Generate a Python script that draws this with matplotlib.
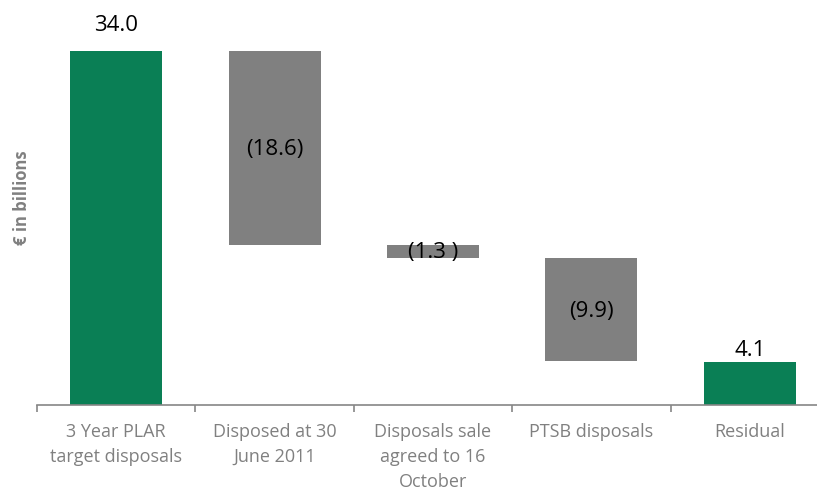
import matplotlib
matplotlib.use("Agg")
import matplotlib.pyplot as plt
import numpy as np

categories = ["3 Year PLAR\ntarget disposals", "Disposed at 30\nJune 2011",
              "Disposals sale\nagreed to 16\nOctober", "PTSB disposals", "Residual"]
start_total = 34.0
reductions = [18.6, 1.3, 9.9]
residual = 4.1
reduction_labels = ["(18.6)", "(1.3 )", "(9.9)"]

GREEN = "#0A7F55"
GREY = "#808080"
AXIS_GREY = "#868686"

plt.rcParams["font.family"] = ["Open Sans", "DejaVu Sans"]

fig = plt.figure(figsize=(8.17, 4.92), dpi=100)
ax = fig.add_axes([37 / 817, 87 / 492, (829 - 37) / 817, 405 / 492])

x = np.arange(len(categories))
width = 0.58

# Totals
ax.bar(x[0], start_total, width=width, color=GREEN)
ax.bar(x[-1], residual, width=width, color=GREEN)
ax.text(x[0], start_total + 1.4, f"{start_total:.1f}", ha="center", va="bottom",
        fontsize=16, color="black")
ax.text(x[-1], residual + 0.15, f"{residual:.1f}", ha="center", va="bottom",
        fontsize=16, color="black")

# Floating reductions
level = start_total
for i, (r, lab) in enumerate(zip(reductions, reduction_labels)):
    bottom = level - r
    ax.bar(x[i + 1], r, bottom=bottom, width=width, color=GREY)
    ax.text(x[i + 1], bottom + r / 2 - 0.15, lab, ha="center", va="center",
            fontsize=16, color="black")
    level = bottom

ax.set_xlim(-0.5, len(categories) - 0.5)
ax.set_ylim(0, 38.9)

for s in ["top", "right", "left"]:
    ax.spines[s].set_visible(False)
ax.spines["bottom"].set_color(AXIS_GREY)
ax.spines["bottom"].set_linewidth(1.2)

ax.set_yticks([])
ax.set_xticks(x)
ax.set_xticklabels(categories, fontsize=13, color=GREY, linespacing=1.5)
ax.tick_params(axis="x", which="major", length=0, pad=13)
ax.set_xticks(np.arange(-0.5, len(categories)), minor=True)
ax.tick_params(axis="x", which="minor", length=5, width=1.2, color=AXIS_GREY)

fig.text(22 / 817, 1 - 198 / 492, "€ in billions", rotation=90, ha="center",
         va="center", fontsize=12, fontweight="bold", color=GREY)

fig.savefig("out.png", dpi=100)
